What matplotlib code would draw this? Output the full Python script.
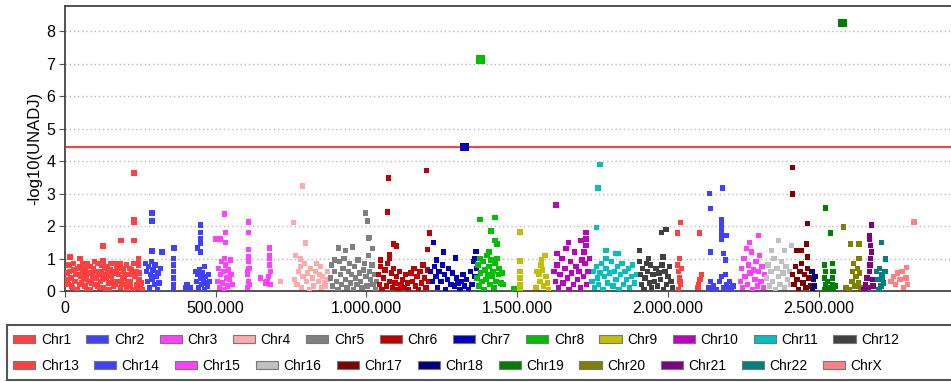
import matplotlib
matplotlib.use("Agg")
import matplotlib.pyplot as plt
from matplotlib.patches import Patch, Rectangle
from matplotlib.ticker import FuncFormatter

# positions in kb, values are -log10(p)
chr1 = [(229, 3.63), (229, 2.2), (229, 2.1), (229, 1.55), (186, 1.55), (126, 1.38), (243, 0.98), (243, 0.8),
        (17, 1.05), (50, 1.0), (126, 0.92),
        (7, 0.55), (10, 0.2), (13, 0.8), (20, 0.4), (25, 0.1), (30, 0.65), (33, 0.3), (40, 0.05), (45, 0.5),
        (50, 0.75), (55, 0.25), (60, 0.6), (66, 0.15), (70, 0.45), (75, 0.85), (80, 0.3), (85, 0.05), (90, 0.55),
        (95, 0.7), (100, 0.2), (105, 0.4), (110, 0.85), (115, 0.1), (120, 0.6), (125, 0.35), (130, 0.5),
        (135, 0.05), (140, 0.75), (145, 0.25), (150, 0.65), (155, 0.45), (160, 0.15), (165, 0.85), (170, 0.55),
        (175, 0.3), (180, 0.7), (185, 0.1), (190, 0.4), (195, 0.6), (200, 0.2), (205, 0.8), (210, 0.5),
        (215, 0.3), (220, 0.65), (225, 0.05), (232, 0.45), (238, 0.2), (245, 0.35), (250, 0.1), (255, 0.05),
        (8, 0.35), (15, 0.6), (22, 0.15), (28, 0.85), (36, 0.5), (42, 0.7), (48, 0.2), (53, 0.45), (58, 0.85),
        (63, 0.35), (68, 0.7), (73, 0.05), (78, 0.55), (83, 0.75), (88, 0.25), (93, 0.4), (98, 0.9), (103, 0.6),
        (108, 0.15), (113, 0.5), (118, 0.3), (123, 0.8), (128, 0.1), (133, 0.7), (138, 0.4), (143, 0.55),
        (148, 0.05), (153, 0.85), (158, 0.3), (163, 0.6), (168, 0.2), (173, 0.75), (178, 0.5), (183, 0.85),
        (188, 0.25), (193, 0.7), (198, 0.45), (203, 0.05), (208, 0.3), (213, 0.7), (218, 0.15), (223, 0.5),
        (228, 0.85), (235, 0.6), (240, 0.1), (248, 0.55), (253, 0.25)]
chr2 = [(289, 2.4), (289, 2.15), (289, 1.23), (322, 1.2), (362, 1.32), (449, 2.03), (449, 1.8), (449, 1.6),
        (449, 1.48), (439, 1.32), (449, 1.2), (462, 0.75), (416, 0.1),
        (359, 1.0), (359, 0.8), (359, 0.6), (359, 0.4), (359, 0.2), (359, 0.05),
        (266, 0.85), (270, 0.6), (273, 0.3), (276, 0.75), (280, 0.1), (283, 0.5), (286, 0.9), (289, 0.35),
        (292, 0.65), (296, 0.2), (299, 0.8), (302, 0.45), (306, 0.05), (309, 0.55), (312, 0.25), (316, 0.7),
        (432, 0.6), (436, 0.3), (440, 0.5), (443, 0.1), (446, 0.65), (450, 0.4), (453, 0.2), (456, 0.55),
        (460, 0.35), (463, 0.05), (466, 0.45), (470, 0.25), (473, 0.15), (476, 0.5), (480, 0.3),
        (400, 0.1), (405, 0.2)]
chr3 = [(499, 1.6), (529, 2.37), (532, 1.8), (532, 1.5), (515, 1.6), (608, 2.12), (608, 1.8), (608, 1.28),
        (678, 1.32), (678, 1.1), (678, 1.0), (678, 0.8), (648, 0.4), (665, 0.25),
        (505, 0.3), (509, 0.7), (512, 0.1), (515, 0.5), (519, 0.9), (522, 0.25), (525, 0.6), (529, 0.05),
        (532, 0.8), (535, 0.4), (538, 0.15), (542, 0.65), (545, 0.35), (548, 0.95), (551, 0.5), (555, 0.2),
        (529, 1.0), (605, 0.1), (608, 0.3), (605, 0.5), (610, 0.7), (608, 0.9), (612, 0.2), (606, 0.6),
        (608, 1.05), (682, 0.6), (675, 0.45), (680, 0.2), (670, 0.3)]
chr4 = [(758, 2.1), (788, 3.23), (798, 1.48), (765, 1.1), (715, 0.3), (761, 0.35), (781, 0.98), (848, 0.75),
        (871, 0.6), (770, 0.2), (775, 0.6), (781, 0.75), (785, 0.1), (790, 0.45), (795, 0.85), (800, 0.3),
        (805, 0.55), (810, 0.05), (815, 0.7), (820, 0.4), (825, 0.15), (830, 0.6), (835, 0.85), (840, 0.3),
        (845, 0.5), (850, 0.1), (855, 0.45), (860, 0.25), (865, 0.15), (871, 0.35)]
chr5 = [(997, 2.4), (1004, 2.15), (1010, 1.65), (1007, 1.63), (1020, 1.3), (907, 1.32), (954, 1.35),
        (894, 0.95), (931, 1.25),
        (881, 0.4), (884, 0.8), (888, 0.15), (894, 0.6), (900, 0.3), (905, 0.05), (910, 0.9), (914, 0.5),
        (918, 0.2), (922, 0.7), (926, 1.0), (931, 0.35), (935, 0.1), (940, 0.6), (944, 0.85), (947, 0.25),
        (951, 0.5), (956, 0.05), (960, 0.75), (964, 0.4), (968, 0.2), (972, 0.95), (977, 0.55), (981, 0.3),
        (985, 0.1), (990, 0.65), (994, 0.85), (998, 0.45), (1002, 0.15), (1006, 1.1), (1010, 0.6),
        (1014, 0.35), (1018, 0.8), (1022, 0.2), (1026, 0.5), (1030, 0.05), (1034, 0.3)]
chr6 = [(1074, 3.48), (1070, 2.43), (1200, 3.7), (1210, 1.78), (1203, 1.28), (1090, 1.45), (1100, 1.38),
        (1077, 1.12), (1077, 1.0), (1047, 0.95),
        (1040, 0.5), (1044, 0.2), (1047, 0.75), (1052, 0.05), (1057, 0.4), (1062, 0.65), (1066, 0.15),
        (1070, 0.85), (1077, 0.3), (1082, 0.55), (1086, 0.1), (1090, 0.7), (1095, 0.25), (1100, 0.45),
        (1105, 0.05), (1110, 0.6), (1115, 0.2), (1120, 0.35), (1125, 0.1), (1130, 0.5), (1135, 0.25),
        (1140, 0.05), (1147, 0.55), (1152, 0.3), (1158, 0.7), (1163, 0.15), (1168, 0.45), (1173, 0.05),
        (1178, 0.6), (1183, 0.25), (1188, 0.8), (1192, 0.4), (1197, 0.1), (1203, 0.65), (1207, 0.3)]
chr7 = [(1223, 1.5), (1256, 1.2), (1296, 1.02), (1233, 0.95), (1326, 4.43), (1363, 1.22), (1360, 1.0),
        (1213, 0.6), (1218, 0.3), (1225, 0.75), (1230, 0.45), (1236, 0.1), (1240, 0.6), (1247, 0.3),
        (1252, 0.8), (1258, 0.5), (1262, 0.05), (1268, 0.35), (1273, 0.7), (1280, 0.2), (1286, 0.55),
        (1292, 0.15), (1298, 0.4), (1303, 0.25), (1310, 0.05), (1316, 0.3), (1320, 0.5), (1326, 0.15),
        (1332, 0.35), (1338, 0.05), (1345, 0.6), (1350, 0.2), (1355, 0.9), (1360, 0.45), (1365, 0.7)]
chr8 = [(1379, 7.12), (1376, 2.2), (1426, 2.27), (1413, 1.85), (1426, 1.55), (1433, 1.45), (1406, 1.2),
        (1453, 0.2), (1489, 0.08),
        (1366, 0.4), (1370, 0.8), (1373, 0.15), (1376, 1.0), (1379, 0.55), (1383, 0.3), (1386, 0.9),
        (1390, 0.05), (1393, 0.65), (1396, 0.35), (1400, 1.1), (1403, 0.5), (1406, 0.75), (1410, 0.2),
        (1413, 0.95), (1416, 0.45), (1420, 0.6), (1423, 0.1), (1426, 0.85), (1430, 0.3), (1433, 1.0),
        (1437, 0.5), (1440, 0.7), (1446, 0.25), (1450, 0.55)]
chr9 = [(1509, 1.82), (1509, 0.92), (1509, 0.6), (1509, 0.4), (1509, 0.2), (1509, 0.05), (1592, 1.1),
        (1579, 0.8), (1572, 0.5), (1575, 0.3), (1583, 0.65), (1588, 0.15), (1595, 0.45), (1600, 0.25),
        (1566, 0.6), (1562, 0.1), (1604, 0.05), (1580, 0.95)]
chr10 = [(1629, 2.65), (1632, 1.15), (1669, 1.5), (1712, 1.55), (1728, 1.8), (1728, 1.6), (1728, 1.4),
         (1722, 1.2),
         (1622, 0.6), (1626, 0.3), (1632, 0.8), (1636, 0.1), (1642, 0.5), (1648, 1.0), (1652, 0.25),
         (1658, 0.7), (1662, 1.3), (1666, 0.4), (1672, 0.05), (1676, 0.9), (1680, 0.55), (1686, 0.2),
         (1690, 1.2), (1695, 0.75), (1700, 0.35), (1705, 0.6), (1710, 0.1), (1715, 0.95), (1720, 0.45),
         (1725, 0.85), (1730, 0.2), (1735, 0.6), (1740, 1.0)]
chr11 = [(1775, 3.9), (1768, 3.17), (1762, 1.95), (1795, 1.25), (1795, 1.0), (1825, 1.15), (1835, 1.15),
         (1748, 0.3), (1752, 0.6), (1756, 0.1), (1762, 0.75), (1766, 0.4), (1770, 0.2), (1775, 0.55),
         (1780, 0.85), (1785, 0.05), (1790, 0.45), (1795, 0.7), (1800, 0.25), (1805, 0.55), (1812, 0.9),
         (1818, 0.15), (1822, 0.6), (1828, 0.35), (1832, 0.75), (1838, 0.05), (1842, 0.5), (1848, 0.85),
         (1852, 0.2), (1858, 0.6), (1862, 0.35), (1868, 0.7), (1872, 0.1), (1878, 0.45), (1882, 0.8),
         (1888, 0.25), (1895, 0.5)]
chr12 = [(1978, 1.8), (1994, 1.9), (1905, 1.25), (1935, 1.0), (1984, 1.05),
         (1905, 0.9), (1908, 0.5), (1912, 0.2), (1916, 0.7), (1920, 0.05), (1924, 0.4), (1928, 0.85),
         (1932, 0.6), (1938, 0.25), (1942, 0.8), (1946, 0.1), (1950, 0.5), (1955, 0.3), (1960, 0.7),
         (1965, 0.15), (1970, 0.55), (1975, 0.35), (1980, 0.8), (1985, 0.05), (1990, 0.6), (1995, 0.2),
         (2000, 0.45), (2005, 0.75), (2010, 0.3), (2015, 0.1)]
chr13 = [(2041, 2.1), (2031, 1.78), (2038, 1.0), (2104, 1.78), (2111, 0.5), (2101, 0.2),
         (2031, 0.8), (2035, 0.6), (2038, 0.4), (2041, 0.2), (2034, 0.05), (2044, 0.7), (2040, 0.3),
         (2106, 0.35), (2099, 0.1)]
chr14 = [(2137, 3.0), (2181, 3.17), (2141, 2.53), (2177, 2.2), (2177, 2.05), (2177, 1.9), (2177, 1.75),
         (2177, 1.6), (2194, 1.7), (2141, 1.2), (2184, 1.15), (2190, 0.95),
         (2134, 0.1), (2140, 0.3), (2144, 0.05), (2150, 0.15), (2160, 0.05), (2171, 0.3), (2178, 0.45),
         (2184, 0.1), (2190, 0.5), (2194, 0.2), (2200, 0.05), (2205, 0.3), (2210, 0.1), (2215, 0.15)]
chr15 = [(2270, 1.5), (2300, 1.7),
         (2240, 0.3), (2244, 0.7), (2248, 0.1), (2252, 1.0), (2256, 0.45), (2260, 1.3), (2264, 0.2),
         (2268, 0.8), (2272, 0.55), (2276, 1.2), (2280, 0.05), (2284, 0.65), (2288, 0.35), (2292, 0.9),
         (2296, 0.15), (2300, 0.6), (2304, 1.1), (2308, 0.3), (2312, 0.75), (2316, 0.1), (2320, 0.5)]
chr16 = [(2367, 1.55), (2343, 1.25), (2387, 1.25), (2410, 1.4),
         (2327, 0.4), (2332, 0.8), (2337, 0.15), (2342, 0.6), (2347, 0.3), (2352, 1.0), (2357, 0.05),
         (2362, 0.7), (2367, 0.45), (2372, 0.2), (2377, 0.9), (2382, 0.55), (2387, 0.1), (2392, 0.75),
         (2397, 0.35), (2402, 0.6), (2407, 0.2)]
chr17 = [(2413, 3.8), (2413, 2.98), (2463, 2.08), (2460, 1.45), (2427, 1.25), (2443, 1.25), (2463, 1.05),
         (2413, 0.5), (2418, 0.2), (2423, 0.75), (2428, 0.35), (2433, 0.05), (2438, 0.6), (2443, 0.85),
         (2448, 0.25), (2453, 0.5), (2458, 0.1), (2463, 0.7), (2468, 0.4), (2472, 0.15)]
chr18 = [(2478, 0.6), (2482, 0.35), (2486, 0.15), (2480, 0.05), (2488, 0.45)]
chr19 = [(2579, 8.25), (2523, 2.55), (2540, 1.78),
         (2520, 0.8), (2522, 0.6), (2520, 0.4), (2523, 0.2), (2521, 0.05), (2545, 0.85), (2547, 0.6),
         (2545, 0.4), (2546, 0.2), (2548, 0.05), (2530, 0.3), (2535, 0.1), (2555, 0.15)]
chr20 = [(2583, 1.97), (2606, 1.45), (2633, 1.45), (2633, 1.0),
         (2590, 0.1), (2600, 0.05), (2610, 0.3), (2613, 0.6), (2616, 0.85), (2620, 0.15), (2624, 0.45),
         (2628, 0.7), (2632, 0.25), (2636, 0.55), (2640, 0.1)]
chr21 = [(2676, 2.03), (2669, 1.7), (2669, 1.6), (2672, 1.4), (2674, 1.2), (2672, 1.0), (2670, 0.8),
         (2668, 0.6), (2660, 0.4), (2655, 0.2), (2665, 0.1), (2678, 0.35), (2650, 0.05), (2680, 0.15)]
chr22 = [(2709, 1.5), (2722, 0.98), (2692, 0.6), (2697, 0.35), (2702, 0.7), (2706, 0.15), (2710, 0.5),
         (2715, 0.25), (2720, 0.6), (2700, 0.05), (2712, 0.4)]
chrX = [(2816, 2.12), (2792, 0.72), (2740, 0.3), (2748, 0.45), (2755, 0.2), (2762, 0.55), (2770, 0.35),
        (2776, 0.6), (2782, 0.1), (2790, 0.4), (2795, 0.2)]

chrom_names = ['Chr1', 'Chr2', 'Chr3', 'Chr4', 'Chr5', 'Chr6', 'Chr7', 'Chr8', 'Chr9', 'Chr10', 'Chr11',
               'Chr12', 'Chr13', 'Chr14', 'Chr15', 'Chr16', 'Chr17', 'Chr18', 'Chr19', 'Chr20', 'Chr21',
               'Chr22', 'ChrX']
chrom_data = [chr1, chr2, chr3, chr4, chr5, chr6, chr7, chr8, chr9, chr10, chr11, chr12, chr13, chr14,
              chr15, chr16, chr17, chr18, chr19, chr20, chr21, chr22, chrX]
chrom_colors = ['#FF4040', '#4040FF', '#FF40FF', '#FFAAAA', '#808080', '#C00000', '#0000C0', '#00C000',
                '#C0C000', '#C000C0', '#00C0C0', '#404040', '#FF4040', '#4040FF', '#FF40FF', '#C0C0C0',
                '#800000', '#000080', '#008000', '#808000', '#800080', '#008080', '#FF8080']
threshold = 4.43

plt.rcParams['font.family'] = ['Liberation Sans', 'DejaVu Sans']

fig = plt.figure(figsize=(9.51, 3.82), dpi=100)
ax = fig.add_axes([65 / 951, 91 / 382, 1 - 65 / 951 + 0.002, 285 / 382])

for pts, col in zip(chrom_data, chrom_colors):
    xs = [p[0] * 1000 for p in pts]
    ys = [p[1] for p in pts]
    sizes = [40 if v >= 4.4 else 15 for v in ys]
    ax.scatter(xs, ys, s=sizes, marker='s', color=col, linewidths=0, zorder=3)

ax.axhline(threshold, color='#FF4040', lw=1.5, zorder=2)

ax.set_xlim(0, 2945000)
ax.set_ylim(0, 8.77)
ax.set_yticks(range(0, 9))
ax.set_xticks([0, 500000, 1000000, 1500000, 2000000, 2500000])
ax.xaxis.set_major_formatter(FuncFormatter(lambda v, p: f"{int(v):,}".replace(',', '.')))
ax.grid(axis='y', color='#BBBBBB', linestyle=(0, (1, 2)), lw=1)
ax.set_axisbelow(True)
ax.tick_params(labelsize=11.5, length=4, color='#555555', pad=3)
ax.set_ylabel('-log10(UNADJ)', fontsize=12, labelpad=3)
for s in ['left', 'bottom', 'top']:
    ax.spines[s].set_color('#444444')
    ax.spines[s].set_linewidth(1.3)
ax.spines['right'].set_visible(False)

# legend frame
fig.patches.append(Rectangle((7 / 951, 2 / 382), 950 / 951, 55 / 382, transform=fig.transFigure,
                             facecolor='white', edgecolor='#555555', lw=1.5))

handles = [Patch(facecolor=c, edgecolor='#777777', lw=0.8) for c in chrom_colors]
legend_kw = dict(frameon=False, handlelength=1.6, handleheight=0.55, handletextpad=0.4,
                 columnspacing=1.1, borderpad=0, borderaxespad=0, loc='center left',
                 prop={'family': ['Liberation Sans Narrow', 'Liberation Sans'], 'size': 10})
leg1 = fig.legend(handles[:12], chrom_names[:12], ncol=12, bbox_to_anchor=(13 / 951, 42 / 382), **legend_kw)
leg2 = fig.legend(handles[12:], chrom_names[12:], ncol=11, bbox_to_anchor=(13 / 951, 16 / 382), **legend_kw)

fig.savefig('out.png', dpi=100)
